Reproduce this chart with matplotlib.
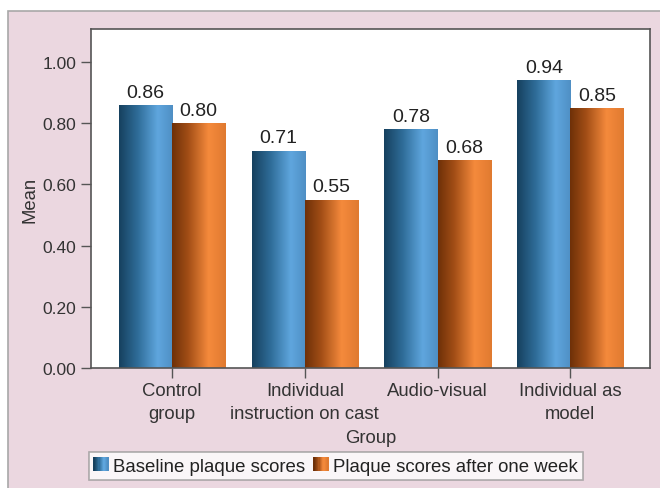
import numpy as np
import matplotlib
matplotlib.use("Agg")
import matplotlib.pyplot as plt
from matplotlib.patches import Rectangle
from matplotlib.colors import LinearSegmentedColormap
from matplotlib.legend_handler import HandlerBase

plt.rcParams["font.family"] = ["Liberation Sans", "DejaVu Sans"]

categories = ["Control\ngroup", "Individual\ninstruction on cast", "Audio-visual", "Individual as\nmodel"]
baseline = [0.86, 0.71, 0.78, 0.94]
after_week = [0.80, 0.55, 0.68, 0.85]
series_names = ["Baseline plaque scores", "Plaque scores after one week"]
yticks = [0.0, 0.2, 0.4, 0.6, 0.8, 1.0]

blue_cmap = LinearSegmentedColormap.from_list(
    "b", [(0, "#16405e"), (0.35, "#2f6d99"), (0.72, "#5fa6de"), (1.0, "#4f8fc4")])
orange_cmap = LinearSegmentedColormap.from_list(
    "o", [(0, "#6e3008"), (0.3, "#a24e16"), (0.68, "#f58a3c"), (1.0, "#e07a30")])

fig = plt.figure(figsize=(6.6, 4.89), dpi=100)
fig.patch.set_facecolor("white")
W, H = 660, 489
bg = Rectangle((8 / W, -0.05), 1.1, 1.05 - 12 / H, transform=fig.transFigure,
               facecolor="#ebd7e0", edgecolor="#a8a8a8", linewidth=1.2, zorder=-10)
fig.patches.append(bg)

ax = fig.add_axes([91 / W, 1 - 369 / H, (650 - 91) / W, (369 - 30) / H])
ax.set_facecolor("white")

x = np.arange(len(categories))
width = 0.4
grad = np.linspace(0, 1, 256).reshape(1, -1)

def grad_bars(xs, vals, cmap):
    for xi, v in zip(xs, vals):
        left = xi - width / 2
        rect = Rectangle((left, 0), width, v, facecolor="none", edgecolor="none")
        ax.add_patch(rect)
        im = ax.imshow(grad, cmap=cmap, aspect="auto", extent=(left, left + width, 0, v),
                       origin="lower", zorder=2)
        im.set_clip_path(rect)
        ax.text(xi, v + 0.014, f"{v:.2f}", ha="center", va="bottom", fontsize=14, color="#222222")

grad_bars(x - width / 2, baseline, blue_cmap)
grad_bars(x + width / 2, after_week, orange_cmap)

ax.set_xlim(-0.61, 3.6)
ax.set_ylim(0, 1.108)
ax.set_xticks(x)
ax.set_xticklabels(categories, fontsize=13.3, color="#333333", linespacing=1.45)
ax.set_yticks(yticks)
ax.set_yticklabels([f"{t:.2f}" for t in yticks], fontsize=12.5, color="#333333")
ax.tick_params(axis="both", direction="out", length=7, width=1, color="#555555")
ax.tick_params(axis="x", pad=3)
for s in ax.spines.values():
    s.set_color("#555555")
    s.set_linewidth(1.2)
ax.set_xlabel("Group", fontsize=13.3, color="#333333", labelpad=5)
ax.set_ylabel("Mean", fontsize=13.3, color="#333333", labelpad=3)


class GradHandler(HandlerBase):
    def __init__(self, cmap):
        super().__init__()
        self.cmap = cmap

    def create_artists(self, legend, orig_handle, xdescent, ydescent, width, height, fontsize, trans):
        arts = []
        n = 12
        size = height * 1.15
        x0 = xdescent * -1 + (width - size) / 2
        y0 = -ydescent + (height - size) / 2
        for i in range(n):
            r = Rectangle((x0 + i * size / n, y0), size / n + 0.3, size,
                          facecolor=self.cmap(i / (n - 1)), edgecolor="none", transform=trans)
            arts.append(r)
        return arts


h1 = Rectangle((0, 0), 1, 1)
h2 = Rectangle((0, 0), 1, 1)
leg = fig.legend([h1, h2], series_names, loc="center", bbox_to_anchor=(336 / W, 1 - 467 / H),
                 ncol=2, fontsize=13.4, frameon=True, fancybox=False, edgecolor="#999999",
                 handlelength=0.7, handletextpad=0.3, columnspacing=0.5, borderpad=0.3,
                 borderaxespad=0, handler_map={h1: GradHandler(blue_cmap), h2: GradHandler(orange_cmap)})
leg.get_frame().set_linewidth(1.2)
for t in leg.get_texts():
    t.set_color("#222222")

fig.savefig("out.png", dpi=100, facecolor=fig.get_facecolor())
